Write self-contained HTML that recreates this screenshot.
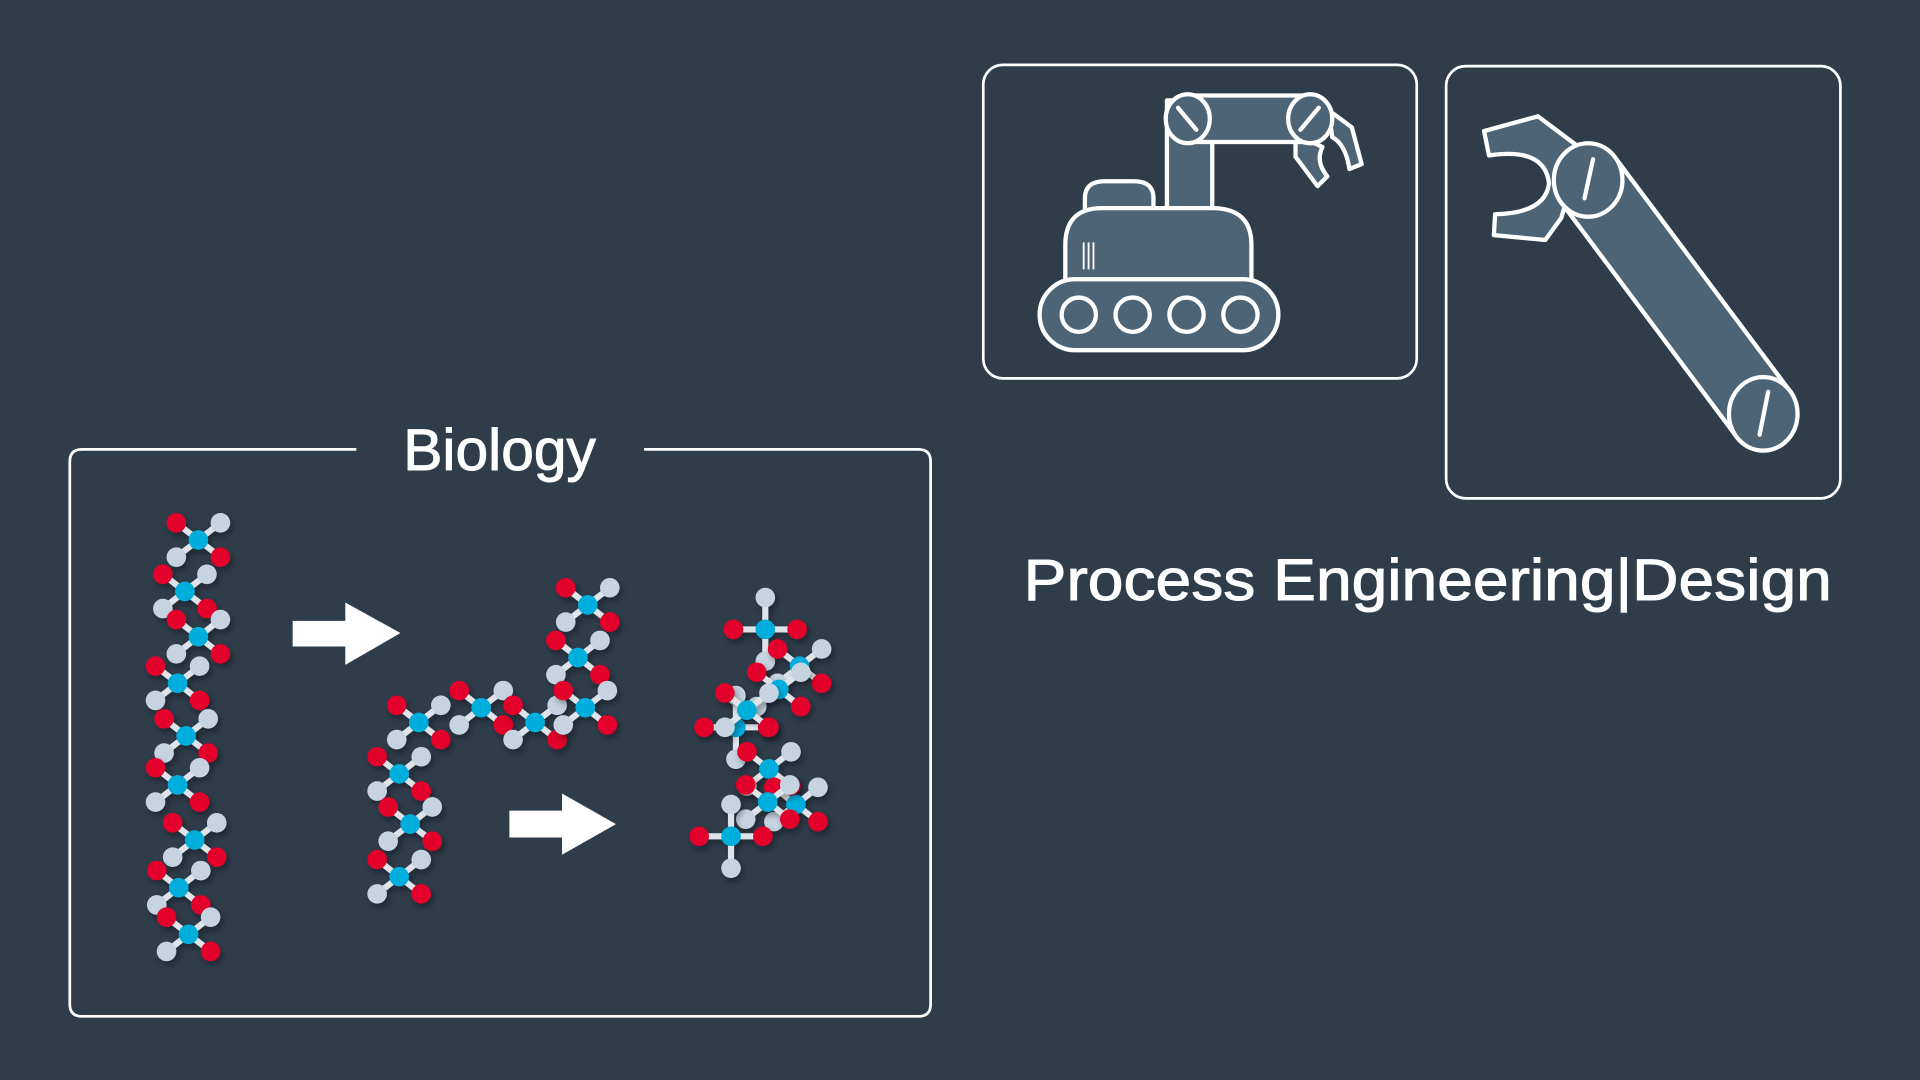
<!DOCTYPE html>
<html><head><meta charset="utf-8"><style>
html,body{margin:0;padding:0;background:#2f3c4a;}
svg{display:block}
</style></head><body>
<svg width="1920" height="1080" viewBox="0 0 1568 882" xmlns="http://www.w3.org/2000/svg">
<defs>
<filter id="sh" x="-50%" y="-50%" width="200%" height="200%"><feDropShadow dx="2" dy="3" stdDeviation="2.5" flood-color="#000" flood-opacity="0.35"/></filter>
<g id="m" filter="url(#sh)">
<g stroke="#dfe4ea" stroke-width="5"><line x1="0" y1="0" x2="-18" y2="-14"/><line x1="0" y1="0" x2="18" y2="-14"/><line x1="0" y1="0" x2="-18" y2="14"/><line x1="0" y1="0" x2="18" y2="14"/></g>
<circle cx="-18" cy="-14" r="8" fill="#e3002b"/><circle cx="18" cy="-14" r="8" fill="#c5d4e0"/>
<circle cx="-18" cy="14" r="8" fill="#c5d4e0"/><circle cx="18" cy="14" r="8" fill="#e3002b"/>
<circle cx="0" cy="0" r="8" fill="#00aede"/>
</g>
<g id="p" filter="url(#sh)">
<g stroke="#dfe4ea" stroke-width="5"><line x1="-26" y1="0" x2="26" y2="0"/><line x1="0" y1="-26" x2="0" y2="26"/></g>
<circle cx="-26" cy="0" r="8" fill="#e3002b"/><circle cx="26" cy="0" r="8" fill="#e3002b"/>
<circle cx="0" cy="-26" r="8" fill="#c5d4e0"/><circle cx="0" cy="26" r="8" fill="#c5d4e0"/>
<circle cx="0" cy="0" r="8" fill="#00aede"/>
</g>
</defs>
<rect width="1568" height="882" fill="#2f3c4a"/>

<path d="M291,367 L67,367 Q57,367 57,377 L57,820 Q57,830 67,830 L750,830 Q760,830 760,820 L760,377 Q760,367 750,367 L526,367" fill="none" stroke="#fff" stroke-width="2.2"/>
<text x="408" y="384" text-anchor="middle" font-family="Liberation Sans, sans-serif" font-size="48" fill="#fff" stroke="#fff" stroke-width="0.8">Biology</text>

<use href="#m" x="162" y="441"/><use href="#m" x="151" y="483"/><use href="#m" x="162" y="520"/>
<use href="#m" x="145" y="558"/><use href="#m" x="152" y="601"/><use href="#m" x="145" y="641"/>
<use href="#m" x="159" y="686"/><use href="#m" x="146" y="725"/><use href="#m" x="154" y="763"/>

<use href="#m" x="480" y="494"/><use href="#m" x="472" y="537"/>
<use href="#m" x="342" y="590"/><use href="#m" x="393" y="578"/>
<use href="#m" x="437" y="590"/><use href="#m" x="478" y="578"/>
<use href="#m" x="326" y="632"/><use href="#m" x="335" y="673"/><use href="#m" x="326" y="716"/>

<use href="#p" x="625" y="514"/><use href="#m" x="653" y="544"/><use href="#m" x="636" y="563"/>
<use href="#p" x="601" y="594"/><use href="#m" x="610" y="580"/><use href="#m" x="628" y="628"/>
<use href="#m" x="650" y="657"/><use href="#m" x="627" y="655"/><use href="#p" x="597" y="683"/>

<polygon points="239,507 282,507 282,492 327,517 282,543 282,528 239,528" fill="#fff"/>
<polygon points="416,662 459,662 459,648 503,673 459,698 459,684 416,684" fill="#fff"/>

<rect x="803" y="53" width="354" height="256" rx="16" fill="none" stroke="#fff" stroke-width="2.2"/>
<g fill="#4d6477" stroke="#fff" stroke-width="3.5" stroke-linejoin="round">
<path d="M1085,90 L1104,104 L1112,134 L1102,138 Q1099,118 1088,112 Z"/>
<path d="M1058,110 L1058,128 L1076,152 L1084,144 Q1074,132 1080,120 Z"/>
<rect x="953" y="82" width="37" height="92"/>
<rect x="970" y="78" width="100" height="38"/>
<ellipse cx="970" cy="97" rx="18" ry="20"/>
<ellipse cx="1070" cy="97" rx="18" ry="20"/>
<path d="M886,172 L886,162 Q886,148 902,148 L926,148 Q942,148 942,162 L942,172 Z"/>
<path d="M870,230 L870,200 Q870,170 900,170 L990,170 Q1022,170 1022,200 L1022,230 Z"/>
<rect x="849" y="228" width="195" height="58" rx="29"/>
<circle cx="881" cy="257" r="14"/><circle cx="925" cy="257" r="14"/><circle cx="969" cy="257" r="14"/><circle cx="1013" cy="257" r="14"/>
</g>
<g stroke="#fff" stroke-width="3.5" stroke-linecap="round">
<line x1="962" y1="88" x2="977" y2="106"/><line x1="1062" y1="106" x2="1077" y2="88"/>
</g>
<g stroke="#fff" stroke-width="1.5"><line x1="885" y1="198" x2="885" y2="220"/><line x1="889" y1="198" x2="889" y2="220"/><line x1="893" y1="198" x2="893" y2="220"/></g>

<rect x="1181" y="54" width="322" height="353" rx="16" fill="none" stroke="#fff" stroke-width="2.2"/>
<g fill="#4d6477" stroke="#fff" stroke-width="3.5" stroke-linejoin="round">
<path d="M1212,107 L1256,95 L1292,122 L1275,178 L1262,196 L1220,192 L1221,175 Q1262,174 1265,150 Q1262,120 1216,127 Z"/>
<polygon points="1274,164 1320,130 1463,321 1417,355"/>
<ellipse cx="1297" cy="147" rx="28" ry="30"/>
<ellipse cx="1440" cy="338" rx="28" ry="30"/>
</g>
<g stroke="#fff" stroke-width="3.5" stroke-linecap="round">
<line x1="1301" y1="130" x2="1294" y2="162"/><line x1="1444" y1="320" x2="1437" y2="355"/>
</g>

<text x="836" y="490" textLength="660" lengthAdjust="spacingAndGlyphs" font-family="Liberation Sans, sans-serif" font-size="48" fill="#fff" stroke="#fff" stroke-width="0.8">Process Engineering|Design</text>
</svg>
</body></html>
